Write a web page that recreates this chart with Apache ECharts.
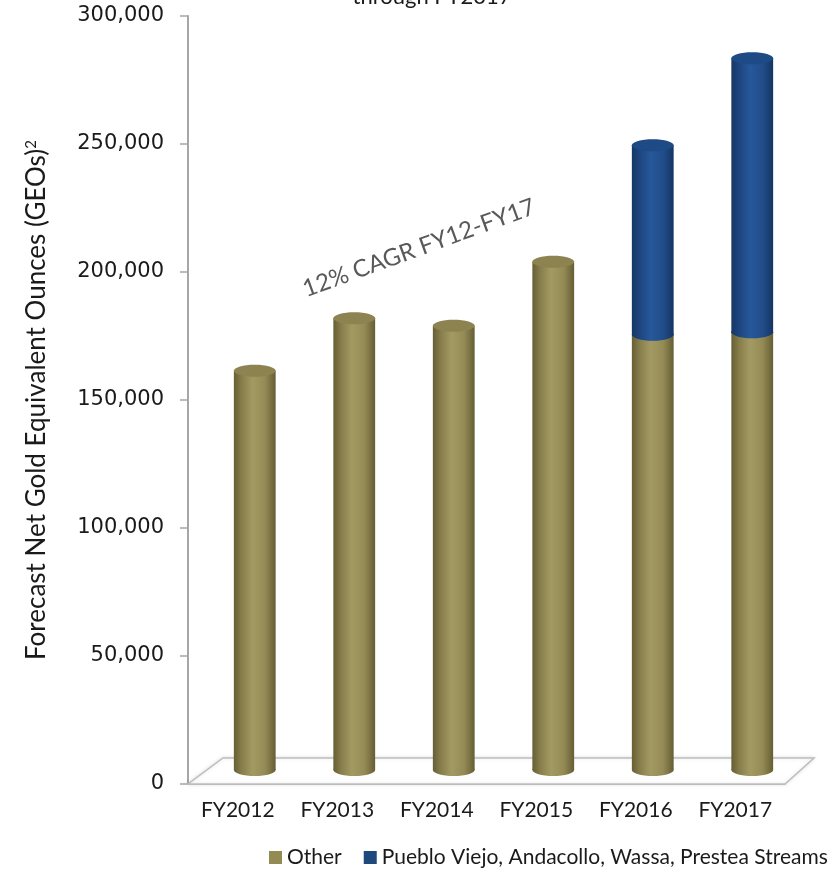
<!DOCTYPE html>
<html>
<head>
<meta charset="utf-8">
<script src="https://cdn.jsdelivr.net/npm/echarts@6/dist/echarts.min.js"></script>
<style>
  html, body { margin: 0; padding: 0; background: #fff; }
  #chart { width: 837px; height: 874px; }
</style>
</head>
<body>
<div id="chart"></div>
<script>
// data
const categories = ['FY2012', 'FY2013', 'FY2014', 'FY2015', 'FY2016', 'FY2017']
const otherValues = [156000, 176500, 173500, 198500, 170000, 171000]
const streamValues = [0, 0, 0, 0, 74000, 107000]
const seriesNames = ['Other', 'Pueblo Viejo, Andacollo, Wassa, Prestea Streams']
const yMin = 0
const yMax = 300000
const yStep = 50000

// fake 3D depth: bars sit half way back on the floor
const depthX = 17
const depthY = -14

const chart = echarts.init(document.getElementById('chart'))

function grad(stops) {
  return new echarts.graphic.LinearGradient(0, 0, 1, 0, stops)
}

const goldFill = () => grad([
  { offset: 0, color: '#665f35' },
  { offset: 0.18, color: '#857c4a' },
  { offset: 0.45, color: '#a39a63' },
  { offset: 0.75, color: '#938a55' },
  { offset: 1, color: '#655e34' },
])
const blueFill = () => grad([
  { offset: 0, color: '#163764' },
  { offset: 0.2, color: '#1d4680' },
  { offset: 0.45, color: '#27589a' },
  { offset: 0.75, color: '#214d8a' },
  { offset: 1, color: '#153562' },
])

function cylinder(baseValues, fill, capColor) {
  return function (params, api) {
    const i = api.value(0)
    const v = api.value(1)
    if (!v) return
    const base = baseValues ? baseValues[i] : 0
    const p0 = api.coord([i, base])
    const p1 = api.coord([i, base + v])
    const w = api.size([1, 0])[0] * 0.42
    const rx = w / 2
    const ry = 6
    const cx = p0[0] + depthX
    const y0 = p0[1] + depthY
    const y1 = p1[1] + depthY
    return {
      type: 'group',
      children: [
        { type: 'ellipse', shape: { cx: cx, cy: y0, rx: rx, ry: ry }, style: { fill: fill() } },
        { type: 'rect', shape: { x: cx - rx, y: y1, width: w, height: y0 - y1 }, style: { fill: fill() } },
        { type: 'ellipse', shape: { cx: cx, cy: y1, rx: rx, ry: ry }, style: { fill: capColor } },
      ],
    }
  }
}

function floor(params, api) {
  const cs = params.coordSys
  const x = cs.x, yb = cs.y + cs.height, w = cs.width
  return {
    type: 'polygon',
    shape: { points: [[x, yb], [x + w, yb], [x + w + 29, yb - 26], [x + 35, yb - 26]] },
    style: { fill: '#fff', stroke: '#bdbdbd', lineWidth: 1.5, shadowBlur: 4, shadowColor: 'rgba(0,0,0,0.12)' },
    silent: true,
  }
}

const option = {
  animation: false,
  grid: { left: 188, right: 52, top: 16, bottom: 90 },
  legend: {
    data: seriesNames,
    left: 264,
    top: 842,
    width: 580,
    icon: 'rect',
    itemWidth: 13,
    itemHeight: 13,
    itemGap: 22,
    textStyle: { fontFamily: 'Lato', fontSize: 21, color: '#1a1a1a' },
  },
  xAxis: {
    type: 'category',
    data: categories,
    axisLine: { lineStyle: { color: '#bdbdbd', width: 1.5 } },
    axisTick: { length: 8, lineStyle: { color: '#bdbdbd', width: 1.5 } },
    axisLabel: { fontFamily: 'Lato', fontSize: 21, color: '#1a1a1a', margin: 16 },
  },
  yAxis: {
    type: 'value',
    min: yMin,
    max: yMax,
    interval: yStep,
    name: 'Forecast Net Gold Equivalent Ounces (GEOs){sup|2}',
    nameLocation: 'middle',
    nameRotate: 90,
    nameGap: 138,
    nameTextStyle: {
      fontFamily: 'Lato', fontSize: 26, color: '#1a1a1a',
      rich: { sup: { fontFamily: 'Lato', fontSize: 15, verticalAlign: 'top', padding: [0, 0, 10, 0] } },
    },
    axisLine: { show: true, lineStyle: { color: '#a6a6a6', width: 2 } },
    axisTick: { show: true, length: 8, lineStyle: { color: '#a6a6a6', width: 1.5 } },
    splitLine: { show: false },
    axisLabel: {
      fontFamily: 'DejaVu Sans', fontSize: 21, color: '#1a1a1a', margin: 24,
      formatter: (v) => v.toLocaleString('en-US'),
    },
  },
  graphic: [
    {
      type: 'text', x: 432, y: -14,
      style: { text: 'through FY2017', font: '22px Lato', fill: '#1a1a1a', align: 'center' },
    },
    {
      type: 'text', x: 419, y: 248, rotation: 0.35,
      style: {
        text: '12% CAGR FY12-FY17', font: '24px Lato', fill: '#595959',
        align: 'center', verticalAlign: 'middle',
      },
    },
  ],
  series: [
    {
      name: 'floor',
      type: 'custom',
      renderItem: floor,
      data: [[0, 0]],
      silent: true,
      z: 1,
    },
    {
      name: seriesNames[0],
      type: 'custom',
      renderItem: cylinder(null, goldFill, '#8c8350'),
      data: otherValues.map((v, i) => [i, v]),
      encode: { x: 0, y: 1 },
      itemStyle: { color: '#948a54' },
      z: 2,
    },
    {
      name: seriesNames[1],
      type: 'custom',
      renderItem: cylinder(otherValues, blueFill, '#1e4a85'),
      data: streamValues.map((v, i) => [i, v]),
      encode: { x: 0, y: 1 },
      itemStyle: { color: '#1f497d' },
      z: 3,
    },
  ],
}

chart.setOption(option)
</script>
</body>
</html>
